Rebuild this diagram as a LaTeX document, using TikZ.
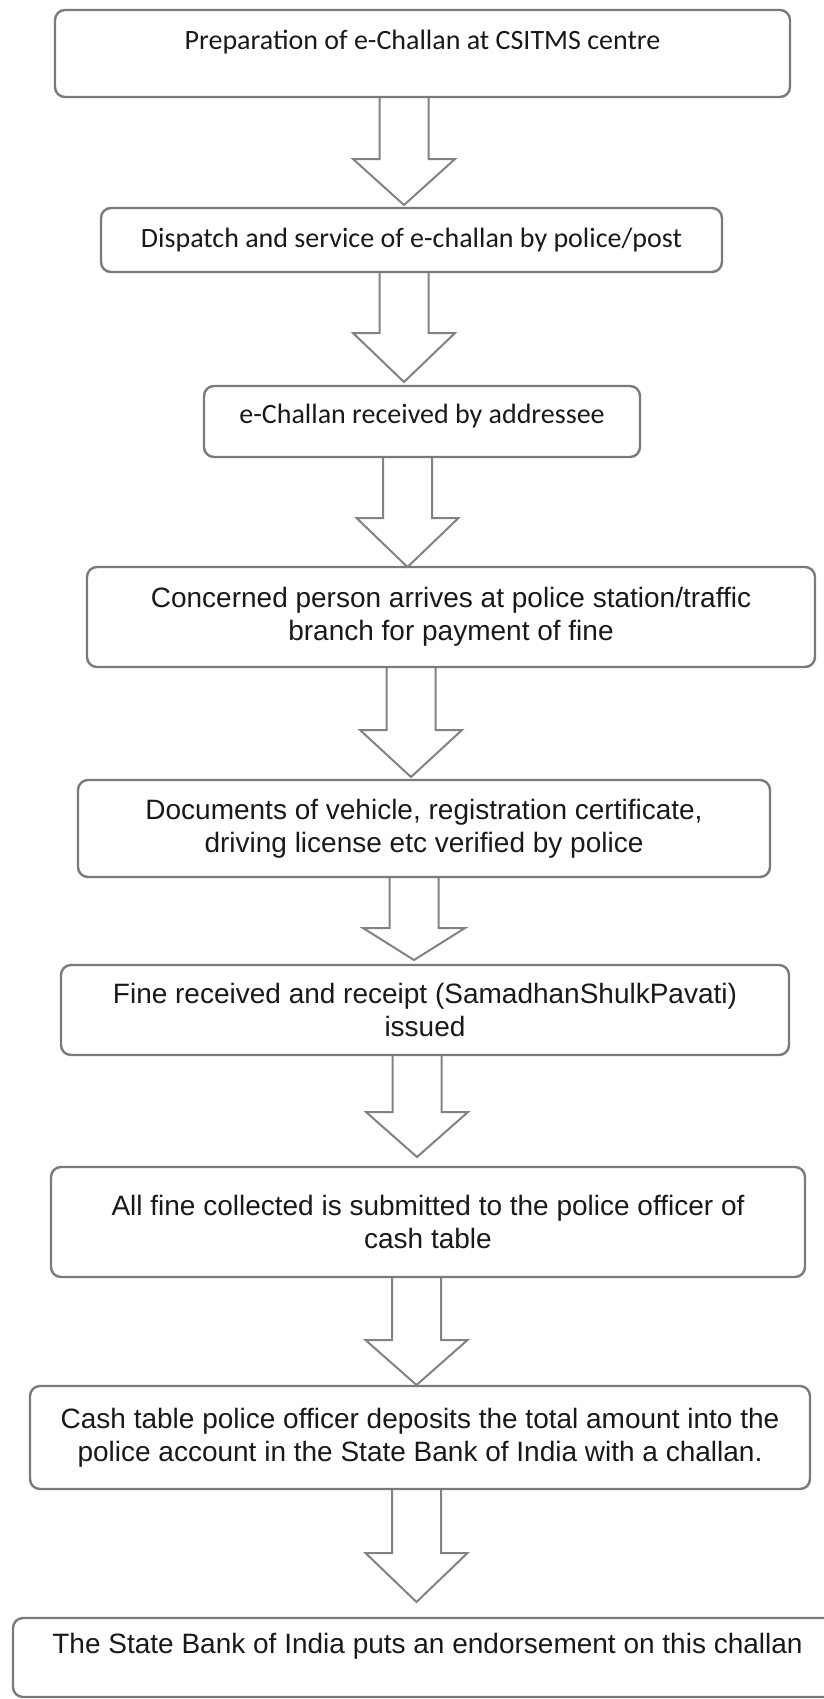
\documentclass[tikz,border=0pt]{standalone}
\usepackage{fontspec}
\usepackage{tikz}
\usetikzlibrary{calc}
\usepackage{xcolor}

\newfontfamily\calibrifont{Carlito}
\newfontfamily\arialfont{Liberation Sans}

\definecolor{boxgray}{HTML}{7A7A7A}
\definecolor{arrowgray}{HTML}{828282}

\begin{document}
\begin{tikzpicture}[x=0.5pt, y=-0.5pt,
  flowbox/.style={draw=boxgray, line width=1.2pt, rounded corners=5pt, align=center, inner sep=0pt, text=black!90},
  calibribox/.style={flowbox, font=\calibrifont\fontsize{14}{16.5}\selectfont},
  arialbox/.style={flowbox, font=\arialfont\fontsize{14}{16.5}\selectfont},
  blockarrow/.style={draw=arrowgray, line width=1pt, line join=miter}]

\clip (0,0) rectangle (824,1699);

% Boxes
\node[calibribox, minimum width=367.5pt, minimum height=43.5pt, text height=10pt, text depth=14pt] at (422.5,53.5) (prep) {Preparation of e-Challan at CSITMS centre};
\node[calibribox, minimum width=310.5pt, minimum height=32pt] at (411.5,240) (dispatch) {Dispatch and service of e-challan by police/post};
\node[calibribox, minimum width=218pt, minimum height=35.5pt, text height=10pt, text depth=8pt] at (422,421.5) (received) {e-Challan received by addressee};
\node[arialbox, minimum width=364pt, minimum height=50pt] at (451,617) (arrives) {Concerned person arrives at police station/traffic\\branch for payment of fine};
\node[arialbox, minimum width=346pt, minimum height=48.5pt] at (424,828.5) (verify) {Documents of vehicle, registration certificate,\\driving license etc verified by police};
\node[arialbox, minimum width=364pt, minimum height=45pt] at (425,1010) (receipt) {Fine received and receipt (SamadhanShulkPavati)\\issued};
\node[arialbox, minimum width=377pt, minimum height=55pt] at (428,1222) (submit) {All fine collected is submitted to the police officer of\\cash table};
\node[arialbox, minimum width=390pt, minimum height=51.5pt] at (420,1437.5) (deposit) {Cash table police officer deposits the total amount into the\\police account in the State Bank of India with a challan.};
\node[arialbox, minimum width=414.5pt, minimum height=39.5pt, text height=10pt, text depth=14.5pt] at (427.5,1657.5) (endorse) {The State Bank of India puts an endorsement on this challan};

% Arrow tips
\coordinate (tip1) at (404,205);
\coordinate (tip2) at (404,382);
\coordinate (tip3) at (407.5,567);
\coordinate (tip4) at (411,777);
\coordinate (tip5) at (414,960);
\coordinate (tip6) at (417,1157);
\coordinate (tip7) at (416.5,1385);
\coordinate (tip8) at (416.5,1602);

% Block arrows
\foreach \src/\dst/\len in {prep/tip1/46, dispatch/tip2/49, received/tip3/49, arrives/tip4/47,
                            verify/tip5/32, receipt/tip6/45, submit/tip7/45, deposit/tip8/49} {
  \draw[blockarrow] let \p1=(\src.south), \p2=(\dst) in
    (\x2-12.25pt,\y1) -- (\x2-12.25pt,\y2+\len*0.5pt) -- (\x2-25.5pt,\y2+\len*0.5pt)
    -- (\p2) -- (\x2+25.5pt,\y2+\len*0.5pt) -- (\x2+12.25pt,\y2+\len*0.5pt) -- (\x2+12.25pt,\y1);
}

\end{tikzpicture}
\end{document}
